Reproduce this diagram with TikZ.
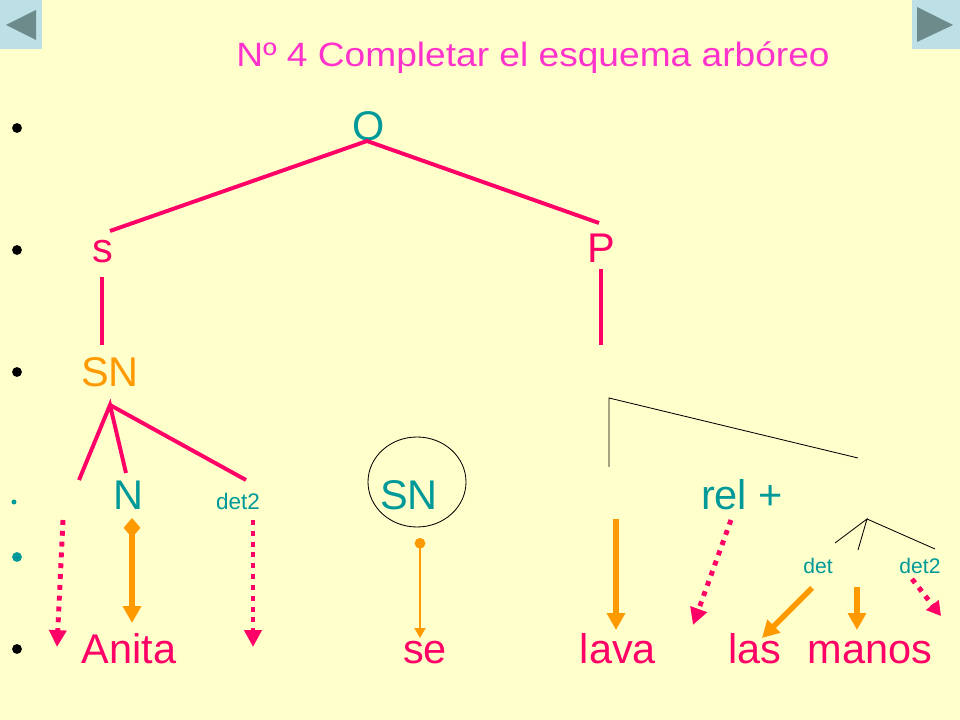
\documentclass[tikz,border=0pt]{standalone}
\usepackage{fontspec}
\setmainfont{Liberation Sans}
\usetikzlibrary{arrows.meta,positioning,calc}
\definecolor{fondo}{HTML}{FFFFCC}
\definecolor{rosa}{HTML}{FF0066}
\definecolor{titulo}{HTML}{FF33CC}
\definecolor{verde}{HTML}{009999}
\definecolor{naranja}{HTML}{FF9900}
\definecolor{boton}{HTML}{BCE0E6}
\definecolor{flecha}{HTML}{6E8B8C}
\tikzset{
  grande/.style={font=\fontsize{29.5pt}{31pt}\selectfont, anchor=base, inner sep=0pt},
  chico/.style={font=\fontsize{15pt}{17pt}\selectfont, anchor=base, inner sep=0pt, text=verde},
  rama/.style={draw=rosa, line width=2.8pt},
  fina/.style={draw=black, line width=0.6pt},
  punteada/.style={rosa, line width=3.5pt, dash pattern=on 3.5pt off 4.2pt, -{Triangle[width=12pt,length=12pt]}},
  gruesa/.style={naranja, line width=3.8pt, -{Triangle[width=12.5pt,length=12pt]}},
  vineta/.style={circle, fill, inner sep=0pt, minimum size=7pt},
}

\begin{document}
\begin{tikzpicture}[x=0.025cm,y=-0.025cm]
  \useasboundingbox (0,0) rectangle (960,720);
  \fill[fondo] (0,0) rectangle (960,720);
  % botones
  \fill[boton] (0,0) rectangle (42,49);
  \fill[flecha] (6,25) -- (36,10) -- (36,40) -- cycle;
  \fill[boton] (912,0) rectangle (960,49);
  \fill[flecha] (953,25) -- (917,7) -- (917,42) -- cycle;
  \node[font=\fontsize{24pt}{26pt}\selectfont, text=titulo, anchor=base west, inner sep=0pt, xscale=1.1] (tit) at (236,67) {Nº 4 Completar el esquema arbóreo};
  % vinetas
  \node[vineta] (v1) at (17,128) {};
  \node[vineta] (v2) at (17,250) {};
  \node[vineta] (v3) at (17,372) {};
  \node[vineta, fill=verde, minimum size=3.5pt] (v4) at (14,502) {};
  \node[vineta, fill=verde] (v5) at (17,557) {};
  \node[vineta] (v6) at (17,649) {};
  % nodos
  \node[grande, text=verde] (O) at (369,141) {O};
  \node[grande, text=rosa] (s) at (103,263) {s};
  \node[grande, text=rosa] (P) at (601,263) {P};
  \node[grande, text=naranja] (SN) at (110,387) {SN};
  \node[grande, text=verde] (N) at (128,510) {N};
  \node[chico, font=\fontsize{16pt}{18pt}\selectfont] (det2a) at (238,510) {det2};
  \node[grande, text=verde] (SNb) at (409,510) {SN};
  \draw[fina] (417,482) ellipse [x radius=49, y radius=45];
  \node[grande, text=verde] (rel) at (742,510) {rel +};
  \node[chico] (det) at (818,573) {det};
  \node[chico] (det2b) at (920,573) {det2};
  \node[grande, text=rosa] (Anita) at (129,663) {Anita};
  \node[grande, text=rosa] (se) at (425,663) {se};
  \node[grande, text=rosa] (lava) at (618,663) {lava};
  \node[grande, text=rosa] (las) at (755,663) {las};
  \node[grande, text=rosa] (manos) at (870,663) {manos};
  % ramas
  \coordinate (o1) at (367,141);
  \coordinate (s1) at (110,231);
  \coordinate (p1) at (599,223);
  \draw[rama] (s1) -- (o1) -- (p1);
  \coordinate (s2) at (102,277);
  \coordinate (s3) at (102,345);
  \draw[rama] (s2) -- (s3);
  \coordinate (p2) at (601,269);
  \coordinate (p3) at (601,345);
  \draw[rama] (p2) -- (p3);
  \coordinate (sn1) at (110,405);
  \coordinate (sn2) at (79,480);
  \coordinate (sn3) at (126,473);
  \coordinate (sn4) at (246,480);
  \draw[rama] (sn2) -- (sn1) -- (sn3);
  \draw[rama] (sn1) -- (sn4);
  % lineas finas
  \coordinate (f1) at (609,398);
  \coordinate (f2) at (609,467);
  \coordinate (f3) at (858,458);
  \draw[fina] (f2) -- (f1) -- (f3);
  \coordinate (t1) at (867,519);
  \coordinate (t2) at (835,543);
  \coordinate (t3) at (858,550);
  \coordinate (t4) at (935,549);
  \draw[fina] (t2) -- (t1) -- (t3);
  \draw[fina] (t1) -- (t4);
  % flechas
  \coordinate (a1) at (63,520);
  \coordinate (a2) at (57,647);
  \draw[punteada] (a1) -- (a2);
  \coordinate (b1) at (132,518);
  \coordinate (b2) at (132,623);
  \draw[gruesa, {Diamond[width=12pt,length=14pt]}-{Triangle[width=12.5pt,length=12pt]}] (b1) -- (b2);
  \coordinate (c1) at (253,520);
  \coordinate (c2) at (253,647);
  \draw[punteada] (c1) -- (c2);
  \coordinate (d1) at (420,538);
  \coordinate (d2) at (420,638);
  \draw[naranja, line width=2pt, {Circle[length=7.5pt]}-{Triangle[width=7.5pt,length=7pt]}] (d1) -- (d2);
  \coordinate (e1) at (616,519);
  \coordinate (e2) at (616,630);
  \draw[gruesa] (e1) -- (e2);
  \coordinate (g1) at (731,520);
  \coordinate (g2) at (693,625);
  \draw[punteada] (g1) -- (g2);
  \coordinate (h1) at (812,588);
  \coordinate (h2) at (762,638);
  \draw[gruesa] (h1) -- (h2);
  \coordinate (k1) at (857,587);
  \coordinate (k2) at (857,630);
  \draw[gruesa] (k1) -- (k2);
  \coordinate (m1) at (912,579);
  \coordinate (m2) at (941,616);
  \draw[punteada, -{Triangle[width=11pt,length=10pt]}] (m1) -- (m2);
\end{tikzpicture}
\end{document}
